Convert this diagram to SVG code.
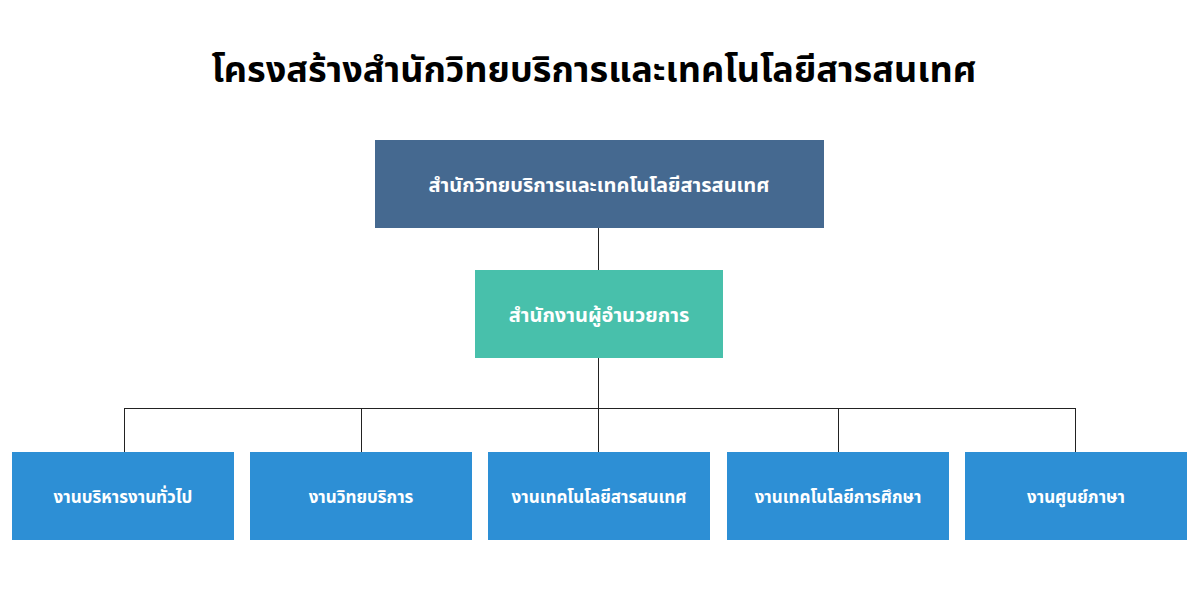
<svg xmlns="http://www.w3.org/2000/svg" width="1200" height="600" viewBox="0 0 1200 600">
<style>
text{font-family:"Noto Sans","Noto Sans Thai","DejaVu Sans",sans-serif;font-weight:bold;text-anchor:middle;dominant-baseline:central}
.t{fill:#fff}
.s{font-size:17px}
.c line{stroke:#222;stroke-width:1}
</style>
<rect width="1200" height="600" fill="#fff"/>
<text x="594" y="68" font-size="36" fill="#000">โครงสร้างสำนักวิทยบริการและเทคโนโลยีสารสนเทศ</text>
<g class="c" id="connectors">
<line x1="598.500" y1="228" x2="598.500" y2="270"/>
<line x1="598.500" y1="358" x2="598.500" y2="452"/>
<line x1="124" y1="408.500" x2="1076" y2="408.500"/>
<line x1="124.500" y1="408" x2="124.500" y2="452"/>
<line x1="361.500" y1="408" x2="361.500" y2="452"/>
<line x1="838.500" y1="408" x2="838.500" y2="452"/>
<line x1="1075.500" y1="408" x2="1075.500" y2="452"/>
</g>
<g id="n1"><rect x="375" y="140" width="449" height="88" fill="#456990"/><text class="t" x="599" y="184" font-size="20">สำนักวิทยบริการและเทคโนโลยีสารสนเทศ</text></g>
<g id="n2"><rect x="475" y="270" width="248" height="88" fill="#48c0ab"/><text class="t" x="599" y="314" font-size="20">สำนักงานผู้อำนวยการ</text></g>
<g id="n3"><rect x="12" y="452" width="222" height="88" fill="#2d8fd5"/><text class="t s" x="123" y="496">งานบริหารงานทั่วไป</text></g>
<g id="n4"><rect x="250" y="452" width="222" height="88" fill="#2d8fd5"/><text class="t s" x="361" y="496">งานวิทยบริการ</text></g>
<g id="n5"><rect x="488" y="452" width="222" height="88" fill="#2d8fd5"/><text class="t s" x="599" y="496">งานเทคโนโลยีสารสนเทศ</text></g>
<g id="n6"><rect x="727" y="452" width="222" height="88" fill="#2d8fd5"/><text class="t s" x="838" y="496">งานเทคโนโลยีการศึกษา</text></g>
<g id="n7"><rect x="965" y="452" width="222" height="88" fill="#2d8fd5"/><text class="t s" x="1076" y="496">งานศูนย์ภาษา</text></g>
</svg>
